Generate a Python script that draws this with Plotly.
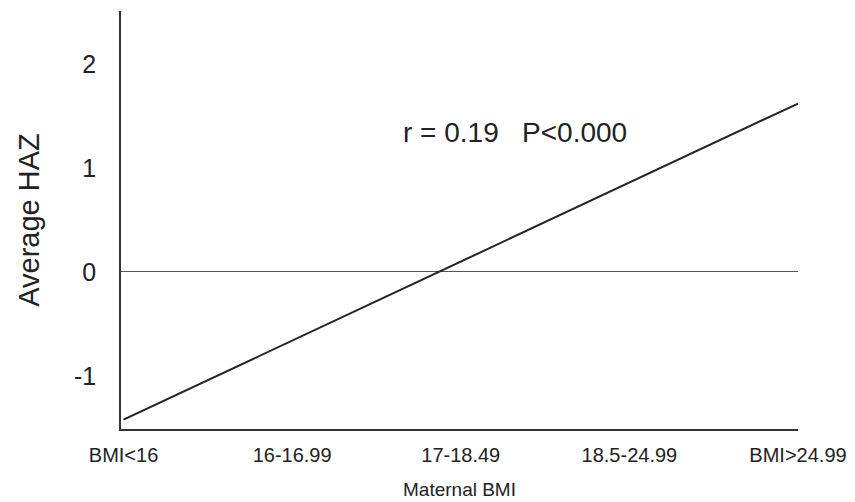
import plotly.graph_objects as go

categories = ["BMI<16", "16-16.99", "17-18.49", "18.5-24.99", "BMI>24.99"]
avg_haz = [-1.42, -0.66, 0.10, 0.86, 1.62]
y_ticks = [-1, 0, 1, 2]
annotation_text = "r = 0.19&nbsp;&nbsp;&nbsp;P<0.000"

x_pos = list(range(len(categories)))

fig = go.Figure()
fig.add_trace(go.Scatter(
    x=x_pos, y=avg_haz, mode="lines",
    line=dict(color="#222222", width=2),
    showlegend=False, hoverinfo="skip",
))

fig.add_annotation(
    x=2.32, y=1.34, text=annotation_text, showarrow=False,
    font=dict(family="Liberation Sans, Arial, sans-serif", size=28, color="#222222"),
)

fig.update_layout(
    width=855, height=502,
    margin=dict(l=113, r=65, t=3, b=81),
    paper_bgcolor="white", plot_bgcolor="white",
    font=dict(family="Liberation Sans, Arial, sans-serif", color="#222222"),
)

fig.update_xaxes(
    range=[-0.015, 4.0],
    tickmode="array", tickvals=x_pos, ticktext=categories,
    tickfont=dict(size=20),
    showgrid=False, zeroline=False,
    showline=True, linecolor="#333333", linewidth=1.5,
    ticks="", ticklabelstandoff=7,
    title=dict(text="Maternal BMI", standoff=18, font=dict(size=19)),
)

fig.update_yaxes(
    range=[-1.51, 2.51],
    tickmode="array", tickvals=y_ticks, ticktext=[str(v) for v in y_ticks],
    tickfont=dict(size=25),
    showgrid=False,
    zeroline=True, zerolinecolor="#555555", zerolinewidth=1,
    showline=True, linecolor="#333333", linewidth=1.5,
    ticks="", ticklabelstandoff=18,
    title=dict(text="Average HAZ", standoff=26, font=dict(size=29)),
)

fig.write_html("out.html")
